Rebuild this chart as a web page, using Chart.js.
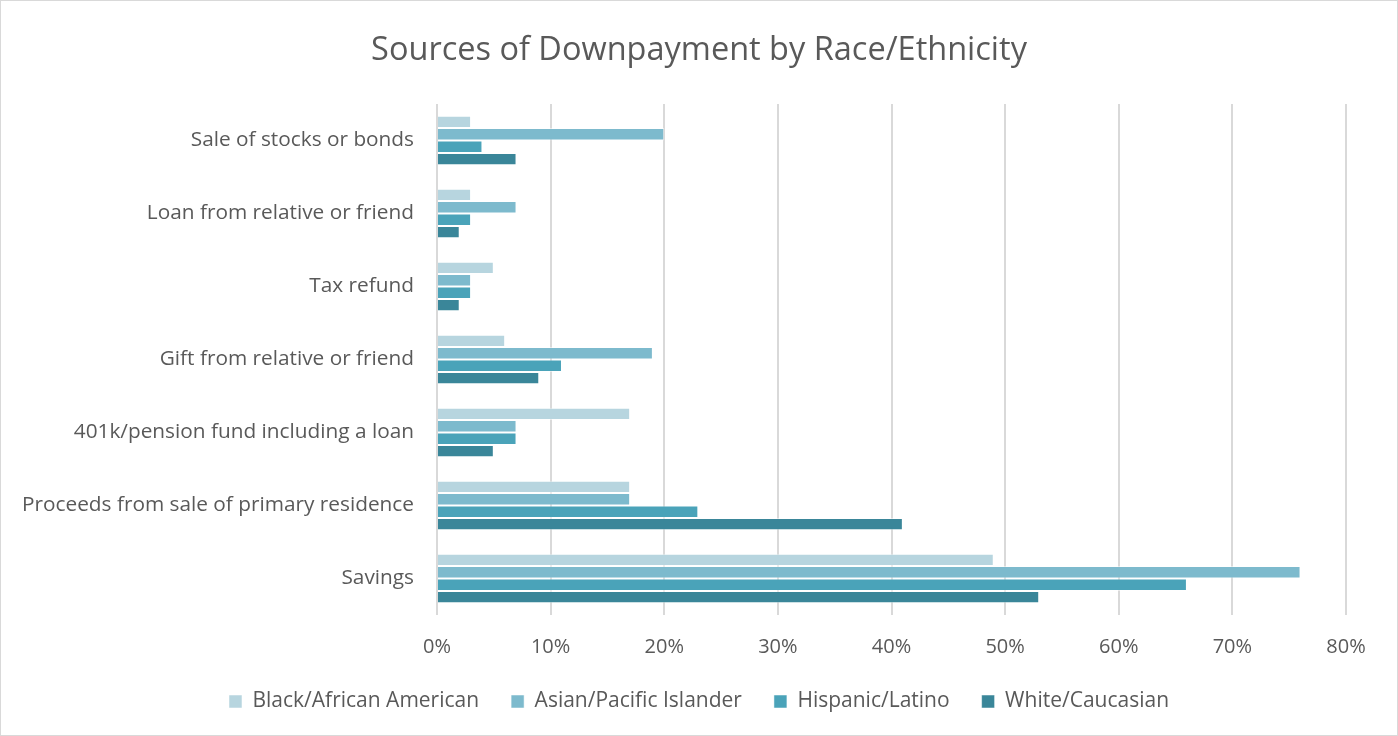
<!DOCTYPE html>
<html>
<head>
<meta charset="utf-8">
<script src="https://cdn.jsdelivr.net/npm/chart.js@4.4.1/dist/chart.umd.min.js"></script>
<style>
  html, body { margin: 0; padding: 0; background: #fff; }
  #wrap { width: 1398px; height: 736px; box-sizing: border-box; border: 1px solid #d9d9d9; }
</style>
</head>
<body>
<div id="wrap"><canvas id="downpayment-chart" width="1396" height="734"></canvas></div>
<script>
// Sources of downpayment, share of buyers (%)
const sources = [
    'Sale of stocks or bonds',
    'Loan from relative or friend',
    'Tax refund',
    'Gift from relative or friend',
    '401k/pension fund including a loan',
    'Proceeds from sale of primary residence',
    'Savings'
];
const blackAfricanAmerican = [3, 3, 5, 6, 17, 17, 49];
const asianPacificIslander = [20, 7, 3, 19, 7, 17, 76];
const hispanicLatino = [4, 3, 3, 11, 7, 23, 66];
const whiteCaucasian = [7, 2, 2, 9, 5, 41, 53];
const xTicks = [0, 10, 20, 30, 40, 50, 60, 70, 80];

const textColor = '#595959';
const fontFamily = '"Open Sans", "Noto Sans", sans-serif';

function makeSeries(label, data, color) {
    return {
        label: label,
        data: data,
        backgroundColor: color,
        borderColor: 'rgba(255, 255, 255, 0.5)',
        borderWidth: 1,
        borderSkipped: 'left',
        barPercentage: 1,
        categoryPercentage: 0.68
    };
}

const ctx = document.getElementById('downpayment-chart').getContext('2d');

const downpaymentChart = new Chart(ctx, {
    type: 'bar',
    data: {
        labels: sources,
        datasets: [
            makeSeries('Black/African American', blackAfricanAmerican, '#b7d5df'),
            makeSeries('Asian/Pacific Islander', asianPacificIslander, '#7dbacd'),
            makeSeries('Hispanic/Latino', hispanicLatino, '#4aa3b9'),
            makeSeries('White/Caucasian', whiteCaucasian, '#3a8699')
        ]
    },
    options: {
        indexAxis: 'y',
        responsive: false,
        animation: false,
        layout: { padding: { left: 10, right: 10, top: 10, bottom: 13 } },
        plugins: {
            title: {
                display: true,
                text: 'Sources of Downpayment by Race/Ethnicity',
                color: textColor,
                font: { family: fontFamily, size: 32.5, weight: 'normal' },
                padding: { top: 20, bottom: 34 }
            },
            legend: {
                position: 'bottom',
                labels: {
                    color: textColor,
                    font: { family: fontFamily, size: 21 },
                    boxWidth: 13,
                    boxHeight: 13,
                    padding: 32
                }
            },
            tooltip: { enabled: false }
        },
        scales: {
            x: {
                min: 0,
                max: 80,
                afterBuildTicks: (scale) => {
                    scale.ticks = xTicks.map(v => ({ value: v }));
                },
                // trim the space under the tick labels, keep room for "80%"
                afterFit: (scale) => {
                    scale.height -= 20;
                    scale.paddingRight = 51;
                },
                ticks: {
                    color: textColor,
                    font: { family: fontFamily, size: 20 },
                    padding: 20,
                    callback: (v) => v + '%'
                },
                grid: { color: '#d9d9d9', lineWidth: 2, drawTicks: false },
                border: { display: false }
            },
            y: {
                afterFit: (scale) => { scale.width = 426; },
                ticks: {
                    color: textColor,
                    font: { family: fontFamily, size: 20.8 },
                    padding: 15
                },
                grid: { display: false },
                border: { display: false }
            }
        }
    }
});
</script>
</body>
</html>
